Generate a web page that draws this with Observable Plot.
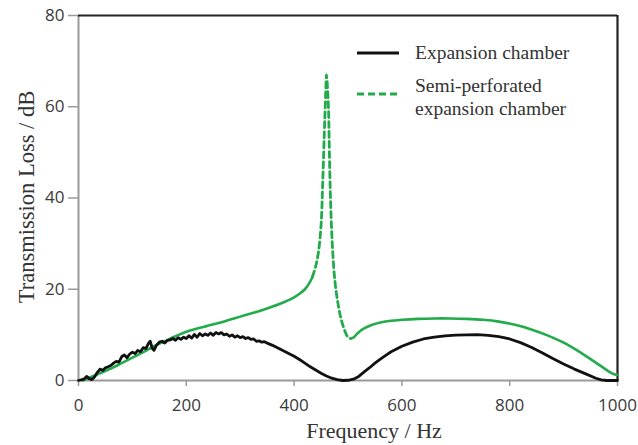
<!DOCTYPE html>
<html>
<head>
<meta charset="utf-8">
<script src="https://cdn.jsdelivr.net/npm/d3@7"></script>
<script src="https://cdn.jsdelivr.net/npm/@observablehq/plot@0.6"></script>
<style>
  html, body { margin: 0; padding: 0; background: #fff; }
  #wrap { position: relative; width: 638px; height: 445px; }
  .serif { font-family: "Liberation Serif", "Times New Roman", serif; color: #333; position: absolute; white-space: nowrap; }
</style>
</head>
<body>
<div id="wrap"></div>
<script>
// ---- Data ----
const expFreq = [0, 10, 15, 20, 25, 30, 35, 40, 45, 50, 55, 60, 65, 70, 75, 80, 85, 90, 95, 100, 105, 110, 115, 120, 125, 130, 133, 137, 140, 145, 150, 155, 160, 165, 170, 175, 180, 185, 190, 195, 200, 205, 210, 215, 220, 225, 230, 235, 240, 245, 250, 255, 260, 265, 270, 275, 280, 285, 290, 295, 300, 305, 310, 315, 320, 325, 330, 335, 340, 345, 350, 360, 370, 380, 390, 400, 410, 420, 430, 440, 450, 460, 470, 480, 490, 500, 510, 520, 530, 540, 550, 560, 570, 580, 600, 620, 640, 660, 680, 700, 720, 740, 760, 780, 800, 820, 840, 860, 880, 900, 920, 940, 960, 970, 980, 1000];
const expTL = [0, 0.3, 0.9, 0.4, 0.2, 0.8, 1.8, 2.5, 2.2, 2.8, 3.0, 3.3, 3.8, 4.2, 4.0, 5.2, 5.6, 5.0, 5.8, 6.2, 5.9, 6.6, 6.3, 7.2, 7.0, 8.2, 8.6, 7.0, 6.6, 7.8, 8.4, 8.6, 8.2, 8.8, 8.9, 9.2, 8.8, 9.4, 9.0, 9.5, 9.2, 9.8, 9.3, 10.1, 9.5, 10.3, 9.8, 10.2, 9.9, 10.4, 9.9, 10.5, 10.2, 10.5, 10.0, 10.2, 9.7, 10.0, 9.5, 9.8, 9.4, 9.6, 9.2, 9.4, 9.0, 9.1, 8.6, 8.7, 8.4, 8.5, 8.2, 7.7, 7.1, 6.5, 5.9, 5.3, 4.6, 3.8, 3.0, 2.3, 1.6, 1.0, 0.5, 0.2, 0.0, 0.05, 0.3, 0.9, 1.9, 2.8, 3.8, 4.7, 5.5, 6.3, 7.5, 8.4, 9.1, 9.5, 9.8, 9.95, 10.0, 10.05, 9.9, 9.6, 9.1, 8.3, 7.3, 6.1, 4.8, 3.6, 2.5, 1.5, 0.5, 0.15, 0.0, 0.0];

const semiFreq = [8, 20, 40, 60, 80, 100, 120, 140, 160, 180, 200, 220, 240, 260, 280, 300, 320, 340, 360, 380, 400, 410, 420, 428, 434, 440, 445, 450, 453, 456, 458, 459, 460, 461, 462, 464, 465, 467, 470, 474, 478, 482, 486, 490, 495, 500, 505, 510, 515, 520, 530, 545, 560, 580, 600, 630, 660, 690, 720, 750, 780, 810, 840, 870, 900, 925, 950, 970, 985, 995, 1000];
const semiTL = [0, 0.6, 1.6, 2.6, 3.8, 5.0, 6.2, 7.5, 8.6, 9.7, 10.7, 11.4, 12.0, 12.6, 13.3, 14.0, 14.7, 15.4, 16.2, 17.1, 18.2, 19.0, 20.0, 21.3, 22.7, 25.0, 28.0, 34.0, 43, 54, 61, 64.5, 67, 66, 64, 59, 53, 42, 32, 24, 19.5, 16.5, 14, 12.3, 10.6, 9.5, 9.2, 9.4, 10.0, 10.6, 11.4, 12.2, 12.7, 13.1, 13.3, 13.5, 13.6, 13.6, 13.5, 13.3, 12.9, 12.2, 11.2, 9.9, 8.3, 6.6, 4.7, 3.1, 1.9, 1.3, 1.2];
// frequency range over which the semi-perforated curve is drawn dashed
const dashedRange = [434, 505];

const xTicks = [0, 200, 400, 600, 800, 1000];
const yTicks = [0, 20, 40, 60, 80];
const seriesNames = ["Expansion chamber", "Semi-perforated expansion chamber"];

// ---- Build tables ----
const exp = expFreq.map((f, i) => ({f, tl: expTL[i]}));
const semi = semiFreq.map((f, i) => ({f, tl: semiTL[i]}));
const semiLeft = semi.filter(d => d.f <= dashedRange[0]);
const semiMid = semi.filter(d => d.f >= dashedRange[0] && d.f <= dashedRange[1]);
const semiRight = semi.filter(d => d.f >= dashedRange[1]);

const GREEN = "#22ab4b";
const AXIS_GRAY = "#9a9a9a";
const TEXT = "#3a3a3a";

const chart = Plot.plot({
  width: 638,
  height: 445,
  marginLeft: 78,
  marginRight: 21,
  marginTop: 15,
  marginBottom: 65,
  style: {fontFamily: "'Open Sans', sans-serif", fontSize: "17px", background: "#fff", overflow: "visible"},
  x: {domain: [0, 1000]},
  y: {domain: [0, 80]},
  marks: [
    Plot.axisX({ticks: xTicks, tickFormat: d => String(d), tickSize: 6, tickPadding: 12, label: null, stroke: AXIS_GRAY, fill: TEXT, strokeWidth: 1.5, fontSize: 17}),
    Plot.axisY({ticks: yTicks, tickFormat: d => String(d), tickSize: 10, tickPadding: 4, label: null, stroke: AXIS_GRAY, fill: TEXT, strokeWidth: 1.5, fontSize: 17}),
    Plot.ruleX([0], {stroke: AXIS_GRAY, strokeWidth: 2}),
    Plot.ruleY([0], {stroke: AXIS_GRAY, strokeWidth: 2}),
    Plot.ruleY([80], {stroke: "#222", strokeWidth: 2.2}),
    Plot.ruleX([1000], {stroke: "#222", strokeWidth: 2.2}),
    Plot.line(semiLeft, {x: "f", y: "tl", stroke: GREEN, strokeWidth: 2.6, curve: "catmull-rom"}),
    Plot.line(semiMid, {x: "f", y: "tl", stroke: GREEN, strokeWidth: 2.8, strokeDasharray: "6,4", curve: "catmull-rom"}),
    Plot.line(semiRight, {x: "f", y: "tl", stroke: GREEN, strokeWidth: 2.6, curve: "catmull-rom"}),
    Plot.line(exp, {x: "f", y: "tl", stroke: "#111", strokeWidth: 2.8, curve: "linear"})
  ]
});

const wrap = document.getElementById("wrap");
wrap.appendChild(chart);

// Axis titles
const xt = document.createElement("div");
xt.className = "serif";
xt.textContent = "Frequency / Hz";
xt.style.cssText += "font-size:22px; left:374px; top:420px; transform:translateX(-50%); line-height:1;";
wrap.appendChild(xt);

const yt = document.createElement("div");
yt.className = "serif";
yt.textContent = "Transmission Loss / dB";
yt.style.cssText += "font-size:22.5px; left:27px; top:197px; transform:translate(-50%,-50%) rotate(-90deg); line-height:1;";
wrap.appendChild(yt);

// Legend
const leg = document.createElement("div");
leg.style.cssText = "position:absolute; left:357px; top:38px;";
leg.innerHTML = `
  <svg width="44" height="70" style="position:absolute;left:0;top:0;overflow:visible">
    <line x1="0" x2="42" y1="15" y2="15" stroke="#111" stroke-width="2.8"/>
    <line x1="0" x2="42" y1="56" y2="56" stroke="${GREEN}" stroke-width="2.8" stroke-dasharray="7,4"/>
  </svg>`;
const t1 = document.createElement("div");
t1.className = "serif";
t1.style.cssText += "left:58px; top:3px; font-size:19.5px; line-height:23px;";
t1.textContent = seriesNames[0];
const t2 = document.createElement("div");
t2.className = "serif";
t2.style.cssText += "left:58px; top:36px; font-size:19.5px; line-height:23px;";
t2.innerHTML = "Semi-perforated<br>expansion chamber";
leg.appendChild(t1);
leg.appendChild(t2);
wrap.appendChild(leg);
</script>
</body>
</html>
